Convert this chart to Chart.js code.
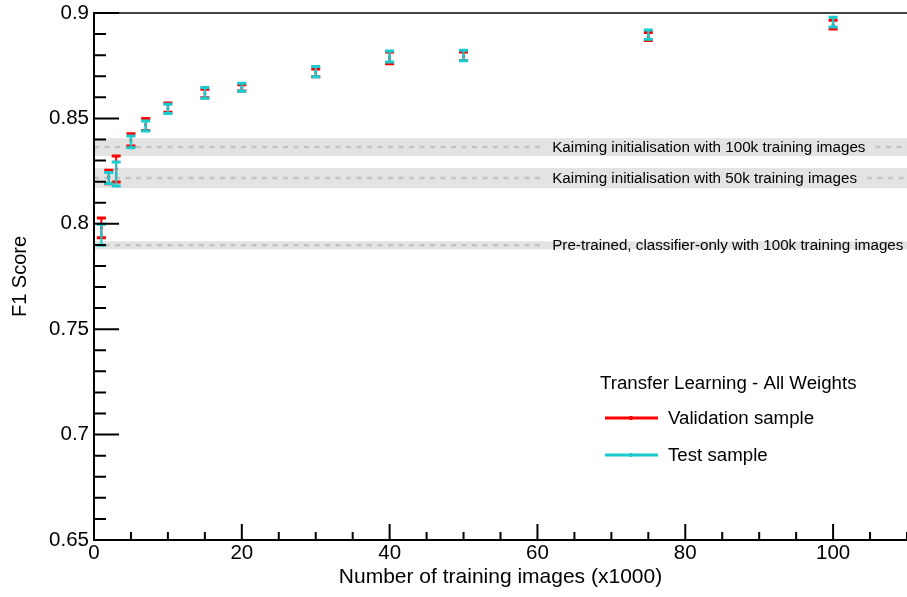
<!DOCTYPE html>
<html>
<head>
<meta charset="utf-8">
<script src="https://cdn.jsdelivr.net/npm/chart.js@4.4.1/dist/chart.umd.min.js"></script>
<style>
  html, body { margin: 0; padding: 0; background: #ffffff; }
  #wrap { width: 907px; height: 597px; }
</style>
</head>
<body>
<div id="wrap"><canvas id="chart" width="907" height="597"></canvas></div>
<script>
// Training-set sizes (thousands of images)
const trainingSizes = [1, 2, 3, 5, 7, 10, 15, 20, 30, 40, 50, 75, 100];

// Transfer learning, all weights trained: F1 and its uncertainty
const validationF1  = [0.7981, 0.8222, 0.8260, 0.8398, 0.8471, 0.8551, 0.8618, 0.8645, 0.8716, 0.8787, 0.8795, 0.8888, 0.8945];
const validationErr = [0.0047, 0.0032, 0.0062, 0.0029, 0.0028, 0.0022, 0.0020, 0.0015, 0.0018, 0.0028, 0.0020, 0.0019, 0.0021];
const testF1        = [0.7948, 0.8217, 0.8236, 0.8389, 0.8464, 0.8545, 0.8621, 0.8648, 0.8722, 0.8794, 0.8798, 0.8897, 0.8957];
const testErr       = [0.0050, 0.0026, 0.0057, 0.0028, 0.0024, 0.0022, 0.0026, 0.0019, 0.0024, 0.0026, 0.0025, 0.0022, 0.0023];

// Reference results drawn as horizontal bands
const baselineNames = [
  'Kaiming initialisation with 100k training images',
  'Kaiming initialisation with 50k training images',
  'Pre-trained, classifier-only with 100k training images'
];
const baselineF1  = [0.8364, 0.8217, 0.7898];
const baselineErr = [0.0042, 0.0048, 0.0019];

// Axis tick values
const yTickValues = [0.65, 0.7, 0.75, 0.8, 0.85, 0.9];
const xTickValues = [0, 20, 40, 60, 80, 100];

const FONT = '"Liberation Sans", Arial, Helvetica, sans-serif';
const RED = '#ff0000';
const CYAN = 'rgb(25, 202, 206)';
const X_MIN = 0, X_MAX = 110, Y_MIN = 0.65, Y_MAX = 0.9;
const BAND_LABEL_X = 62;

const points = (ys) => trainingSizes.map((x, i) => ({ x: x, y: ys[i] }));

const bandDatasets = baselineF1.map((v, i) => ({
  type: 'line',
  data: [{ x: X_MIN, y: v + baselineErr[i] }, { x: X_MAX, y: v + baselineErr[i] }],
  fill: { value: v - baselineErr[i] },
  backgroundColor: '#e3e3e3',
  borderWidth: 0,
  pointRadius: 0,
  pointHoverRadius: 0,
  order: 10,
  baselineIndex: i
}));

const seriesDatasets = [
  {
    label: 'Validation sample',
    data: points(validationF1),
    errors: validationErr,
    borderColor: RED,
    backgroundColor: RED,
    pointRadius: 1.5,
    pointHoverRadius: 0,
    pointBorderWidth: 0,
    order: 2
  },
  {
    label: 'Test sample',
    data: points(testF1),
    errors: testErr,
    borderColor: CYAN,
    backgroundColor: CYAN,
    pointRadius: 1.5,
    pointHoverRadius: 0,
    pointBorderWidth: 0,
    order: 1
  }
];

// Dashed centre line + text for a band, and error bars for a series
const overlayPlugin = {
  id: 'overlay',
  afterDatasetDraw(chart, args) {
    const ds = chart.data.datasets[args.index];
    const { ctx, chartArea, scales: { x, y } } = chart;
    if (ds.baselineIndex !== undefined) {
      const i = ds.baselineIndex;
      const yc = y.getPixelForValue(baselineF1[i]);
      const lx = x.getPixelForValue(BAND_LABEL_X);
      ctx.save();
      ctx.font = '15.2px ' + FONT;
      const tw = ctx.measureText(baselineNames[i]).width;
      ctx.strokeStyle = '#c4c4c4';
      ctx.lineWidth = 2.5;
      ctx.setLineDash([5, 5.5]);
      ctx.beginPath();
      ctx.moveTo(chartArea.left, yc);
      ctx.lineTo(lx - 9, yc);
      if (lx + tw + 10 < chartArea.right) {
        ctx.moveTo(lx + tw + 10, yc);
        ctx.lineTo(chartArea.right, yc);
      }
      ctx.stroke();
      ctx.setLineDash([]);
      ctx.fillStyle = '#000';
      ctx.textAlign = 'left';
      ctx.textBaseline = 'middle';
      ctx.fillText(baselineNames[i], lx, yc + 1);
      ctx.restore();
    }
    if (ds.errors) {
      ctx.save();
      ctx.strokeStyle = ds.borderColor;
      ds.data.forEach((p, k) => {
        const px = x.getPixelForValue(p.x);
        const yHi = y.getPixelForValue(p.y + ds.errors[k]);
        const yLo = y.getPixelForValue(p.y - ds.errors[k]);
        ctx.lineWidth = 2;
        ctx.beginPath();
        ctx.moveTo(px, yHi); ctx.lineTo(px, yLo);
        ctx.stroke();
        ctx.lineWidth = 3;
        ctx.beginPath();
        ctx.moveTo(px - 4.5, yHi); ctx.lineTo(px + 4.5, yHi);
        ctx.moveTo(px - 4.5, yLo); ctx.lineTo(px + 4.5, yLo);
        ctx.stroke();
      });
      ctx.restore();
    }
  }
};

// Frame, inward ticks and the legend box
const framePlugin = {
  id: 'frame',
  afterDraw(chart) {
    const { ctx, chartArea: a, scales: { x, y } } = chart;
    ctx.save();
    // top frame line
    ctx.strokeStyle = '#444';
    ctx.lineWidth = 2;
    ctx.beginPath(); ctx.moveTo(a.left, a.top); ctx.lineTo(a.right, a.top); ctx.stroke();
    // axes
    ctx.strokeStyle = '#000';
    ctx.beginPath();
    ctx.moveTo(a.left, a.top - 1); ctx.lineTo(a.left, a.bottom + 1);
    ctx.moveTo(a.left - 1, a.bottom); ctx.lineTo(a.right, a.bottom);
    ctx.stroke();
    // y ticks: major every 0.05, minor every 0.01
    ctx.lineWidth = 2;
    ctx.beginPath();
    for (let k = 0; k <= 25; k++) {
      const v = Y_MIN + k * 0.01;
      const py = y.getPixelForValue(v);
      const len = (k % 5 === 0) ? 25 : 12;
      ctx.moveTo(a.left, py); ctx.lineTo(a.left + len, py);
    }
    // x ticks: major every 20, minor every 5
    for (let v = 0; v <= X_MAX; v += 5) {
      const px = x.getPixelForValue(v);
      const len = (v % 20 === 0) ? 16 : 8;
      ctx.moveTo(px, a.bottom); ctx.lineTo(px, a.bottom - len);
    }
    ctx.stroke();

    // legend
    ctx.fillStyle = '#000';
    ctx.textAlign = 'left';
    ctx.textBaseline = 'middle';
    ctx.font = '18.7px ' + FONT;
    ctx.fillText('Transfer Learning - All Weights', 600, 384);
    const entries = [
      { ds: chart.data.datasets.find(d => d.label === 'Validation sample'), y: 418 },
      { ds: chart.data.datasets.find(d => d.label === 'Test sample'), y: 455 }
    ];
    entries.forEach(e => {
      ctx.strokeStyle = e.ds.borderColor;
      ctx.lineWidth = 3;
      ctx.beginPath(); ctx.moveTo(605, e.y); ctx.lineTo(658, e.y); ctx.stroke();
      ctx.fillStyle = e.ds.borderColor;
      ctx.fillRect(629.5, e.y - 2, 3, 4);
      ctx.fillStyle = '#000';
      ctx.fillText(e.ds.label, 668, e.y + 1);
    });
    ctx.restore();
  }
};

new Chart(document.getElementById('chart'), {
  type: 'scatter',
  data: { datasets: [...seriesDatasets, ...bandDatasets] },
  options: {
    responsive: false,
    animation: false,
    layout: { autoPadding: false, padding: { top: 13, right: 0, bottom: 0, left: 0 } },
    plugins: { legend: { display: false }, tooltip: { enabled: false } },
    scales: {
      x: {
        type: 'linear',
        min: X_MIN,
        max: X_MAX,
        afterBuildTicks: s => { s.ticks = xTickValues.map(v => ({ value: v })); },
        afterFit: s => { s.height = 57; s.paddingLeft = 0; s.paddingRight = 0; },
        grid: { display: false, drawTicks: false },
        border: { display: false },
        ticks: {
          color: '#000',
          padding: 1,
          maxRotation: 0,
          font: { family: FONT, size: 20.5 },
          callback: v => String(v)
        },
        title: {
          display: true,
          text: 'Number of training images (x1000)',
          color: '#000',
          font: { family: FONT, size: 21 },
          padding: { top: 0, bottom: 7 }
        }
      },
      y: {
        type: 'linear',
        min: Y_MIN,
        max: Y_MAX,
        afterBuildTicks: s => { s.ticks = yTickValues.map(v => ({ value: v })); },
        afterFit: s => { s.width = 94; s.paddingTop = 0; s.paddingBottom = 0; },
        grid: { display: false, drawTicks: false },
        border: { display: false },
        ticks: {
          color: '#000',
          padding: 5,
          font: { family: FONT, size: 20.5 },
          callback: v => String(+v.toFixed(2))
        },
        title: {
          display: true,
          text: 'F1 Score',
          color: '#000',
          font: { family: FONT, size: 20 },
          padding: { top: 8, bottom: 0 }
        }
      }
    }
  },
  plugins: [overlayPlugin, framePlugin]
});
</script>
</body>
</html>
